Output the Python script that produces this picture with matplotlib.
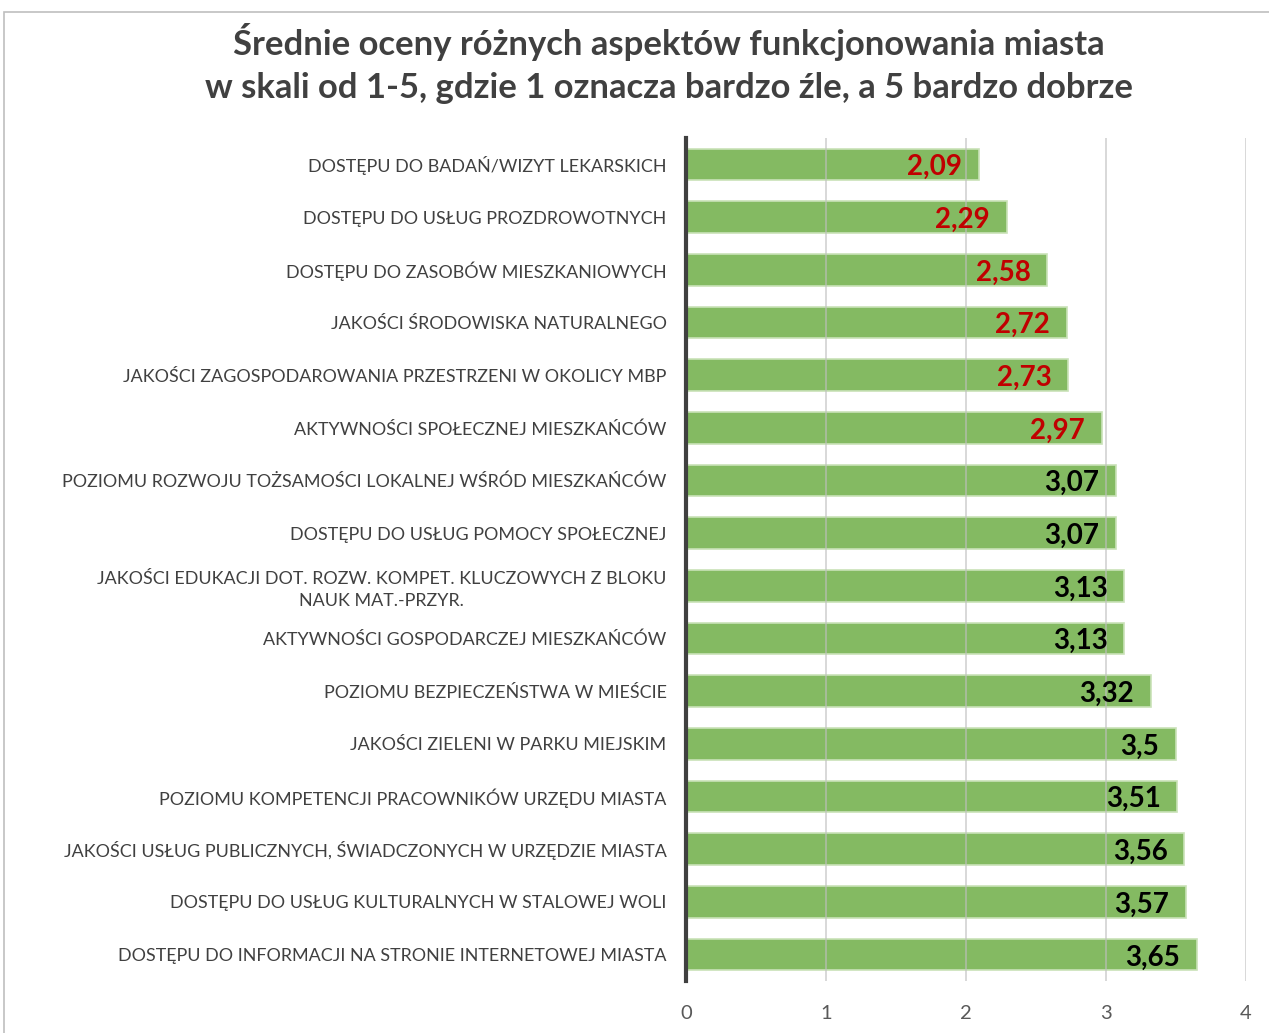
import numpy as np
import matplotlib.pyplot as plt
from matplotlib.patches import Rectangle

categories = [
    "DOSTĘPU DO BADAŃ/WIZYT LEKARSKICH",
    "DOSTĘPU DO USŁUG PROZDROWOTNYCH",
    "DOSTĘPU DO ZASOBÓW MIESZKANIOWYCH",
    "JAKOŚCI ŚRODOWISKA NATURALNEGO",
    "JAKOŚCI ZAGOSPODAROWANIA PRZESTRZENI W OKOLICY MBP",
    "AKTYWNOŚCI SPOŁECZNEJ MIESZKAŃCÓW",
    "POZIOMU ROZWOJU TOŻSAMOŚCI LOKALNEJ WŚRÓD MIESZKAŃCÓW",
    "DOSTĘPU DO USŁUG POMOCY SPOŁECZNEJ",
    "JAKOŚCI EDUKACJI DOT. ROZW. KOMPET. KLUCZOWYCH Z BLOKU\nNAUK MAT.-PRZYR.",
    "AKTYWNOŚCI GOSPODARCZEJ MIESZKAŃCÓW",
    "POZIOMU BEZPIECZEŃSTWA W MIEŚCIE",
    "JAKOŚCI ZIELENI W PARKU MIEJSKIM",
    "POZIOMU KOMPETENCJI PRACOWNIKÓW URZĘDU MIASTA",
    "JAKOŚCI USŁUG PUBLICZNYCH, ŚWIADCZONYCH W URZĘDZIE MIASTA",
    "DOSTĘPU DO USŁUG KULTURALNYCH W STALOWEJ WOLI",
    "DOSTĘPU DO INFORMACJI NA STRONIE INTERNETOWEJ MIASTA",
]
values = [2.09, 2.29, 2.58, 2.72, 2.73, 2.97, 3.07, 3.07,
          3.13, 3.13, 3.32, 3.5, 3.51, 3.56, 3.57, 3.65]
xticks = [0, 1, 2, 3, 4]

plt.rcParams["font.family"] = ["Lato", "DejaVu Sans"]

fig = plt.figure(figsize=(12.69, 10.33), dpi=100)
ax = fig.add_axes([0.5406, 0.0504, 0.4413, 0.8160])

y = np.arange(len(categories))
ax.barh(y, values, height=0.6, color="#84BA62", edgecolor="#C9E2B8",
        linewidth=1.2, zorder=2)

ax.set_xlim(0, 4)
ax.set_ylim(len(categories) - 0.5, -0.5)
ax.set_xticks(xticks)
ax.set_xticklabels([str(t) for t in xticks], fontsize=14.5, color="#595959")
ax.tick_params(axis="x", length=0, pad=17)
ax.set_yticks(y)
ax.set_yticklabels(categories, fontsize=12.9, color="#404040")
ax.tick_params(axis="y", length=0, pad=14)
for lab in ax.get_yticklabels():
    lab.set_multialignment("center")
    lab.set_linespacing(1.45)

ax.grid(axis="x", color="#BFBFBF", linewidth=1.2, alpha=0.7, zorder=3)
ax.set_axisbelow(False)
for s in ["top", "right", "bottom"]:
    ax.spines[s].set_visible(False)
ax.spines["left"].set_color("#404040")
ax.spines["left"].set_linewidth(3)
ax.spines["left"].set_zorder(4)

for yi, v in zip(y, values):
    col = "#C00000" if v < 3 else "#000000"
    ax.annotate(f"{v:g}".replace(".", ","), xy=(v, yi), xytext=(-12, -2),
                textcoords="offset points", ha="right", va="center",
                fontsize=20, fontweight="bold", color=col, zorder=5)

fig.text(0.527, 0.9593, "Średnie oceny różnych aspektów funkcjonowania miasta",
         ha="center", va="center", fontsize=24.9, fontweight="bold", color="#404040")
fig.text(0.527, 0.9148, "w skali od 1-5, gdzie 1 oznacza bardzo źle, a 5 bardzo dobrze",
         ha="center", va="center", fontsize=24.9, fontweight="bold", color="#404040")

fig.patches.append(Rectangle((4 / 1269, -0.1), 1.1, 1 - 12 / 1033 + 0.1,
                             transform=fig.transFigure, fill=False,
                             edgecolor="#BFBFBF", linewidth=1.2))

fig.savefig("out.png", dpi=100)
